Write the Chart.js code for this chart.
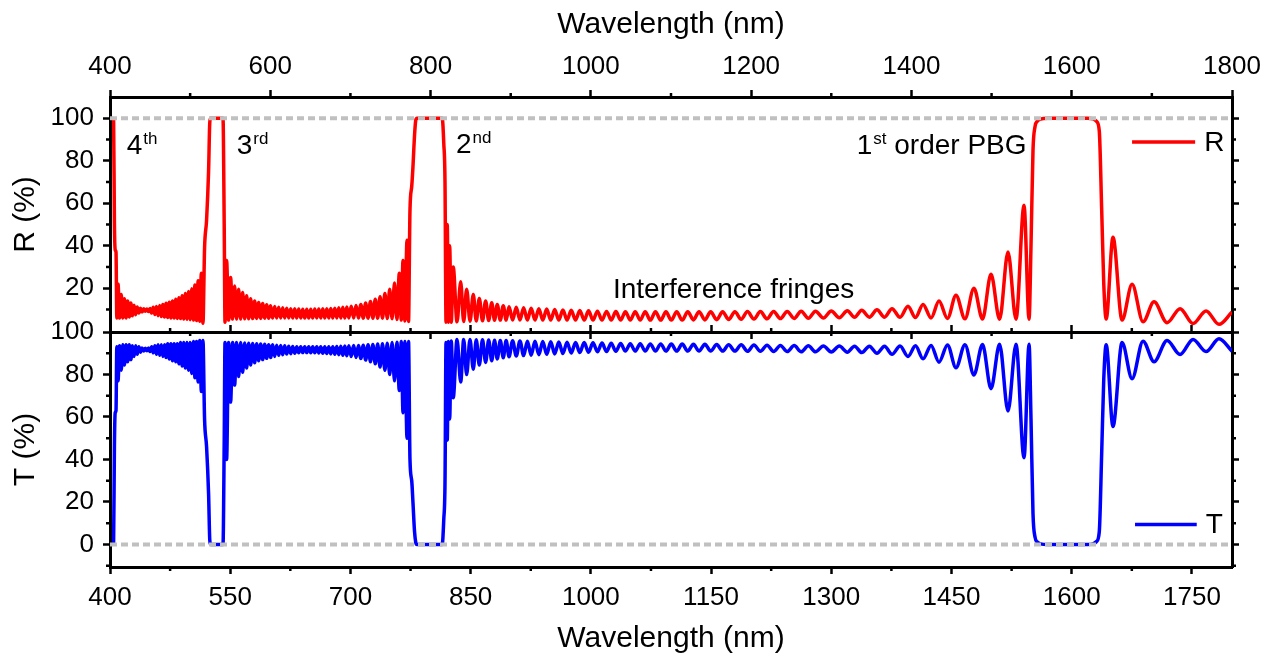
<!DOCTYPE html>
<html>
<head>
<meta charset="utf-8">
<title>R / T spectrum</title>
<script src="https://cdn.jsdelivr.net/npm/chart.js@4.4.1/dist/chart.umd.min.js"></script>
<style>
  body { margin: 0; background: #fff; }
  #wrap { position: relative; width: 1277px; height: 660px; }
  #wrap canvas { position: absolute; left: 0; top: 0; }
</style>
</head>
<body>
<div id="wrap">
  <canvas id="tChart" width="1277" height="660"></canvas>
  <canvas id="rChart" width="1277" height="660"></canvas>
</div>
<script>
// Points (fringe maxima / minima and band edges), by region.
// 403 - 524.5 nm : 4th order edge, fringes, 3rd order edge
const wlUV = [403, 404.5, 405.5, 406.5, 407.5, 408.5,
  410, 412, 414, 416, 418, 420, 422, 424, 426, 428,
  430, 432, 434, 436, 438, 440, 442, 444, 446, 448,
  450, 452, 454, 456, 458, 460, 462, 464, 466, 468,
  470, 472, 474, 476, 478, 480, 482, 484, 486, 488,
  490, 492, 494, 496, 498, 500, 502, 504, 506, 508,
  510, 512, 514, 516,
  518, 520.5, 523, 524.5];
const rUV = [100, 99, 51, 38, 37, 6,
  22, 6, 17, 6, 15, 6, 14, 6.5, 13, 7,
  12, 7.5, 11.2, 8.3, 10.6, 8.8, 10.3, 9.2, 10.2, 9,
  10.5, 8.3, 11, 7.6, 11.4, 7.1, 11.9, 6.7, 12.4, 6.5,
  12.9, 6.2, 13.4, 6, 14, 6, 14.8, 5.8, 15.5, 5.7,
  16.5, 5.5, 17.5, 5.4, 18.5, 5.2, 19.8, 5, 21.5, 4.8,
  23.5, 4.5, 27, 3.5,
  39, 52, 75, 98];
const tUV = [0, 1, 46, 62, 63, 93,
  77, 93.5, 82, 94, 84.5, 94, 86, 94, 87, 93.5,
  88.5, 93.5, 89.5, 93, 90.5, 92.5, 91, 92.3, 91.2, 92.5,
  90.8, 93, 90.2, 93.5, 89.5, 94, 89, 94, 88.5, 94,
  88, 94.5, 87.3, 94.5, 86.5, 94.5, 86, 94.5, 85, 95,
  84, 95, 83, 95, 82, 95, 80.5, 95.5, 78.5, 95.5,
  76.5, 96, 72, 96,
  59, 46, 24, 2];

// 525.5 - 783 nm : 3rd order gap, fringes, 2nd order edge
const wlVis = [525.5, 541, 542.5, 543.5,
  545.5, 548, 550.5, 553, 555.5, 558, 560.5, 563, 565.5, 568,
  570.5, 573, 575.5, 578, 580.5, 583, 585.5, 588, 590.5, 593,
  595.5, 598, 600.5, 603, 605.5, 608, 610.5, 613, 615.5, 618,
  620.5, 623, 625.5, 628, 630.5, 633, 635.5, 638, 640.5, 643,
  645.5, 648, 650.5, 653, 655.5, 658, 660.5, 663, 665.5, 668,
  670.5, 673, 675.5, 678, 680.5, 683, 685.5, 688, 690.5, 693,
  695.5, 698,
  701, 704, 707, 710, 713, 716, 719, 722, 725, 728,
  731, 734, 737, 740, 743, 746, 749, 752, 755, 758,
  761, 763.5, 765.6, 768, 770.6, 772.5,
  774.3, 776.5, 778, 780, 781.5, 783];
const rVis = [100, 100, 50, 4,
  33, 5, 25, 5.5, 21, 5.5, 19.5, 5.5, 18, 5.6,
  16.5, 5.6, 15, 5.7, 14, 5.8, 13.3, 5.8, 12.8, 5.9,
  12.2, 5.9, 11.8, 6, 11.4, 6, 11.1, 6, 10.8, 6,
  10.6, 6, 10.4, 6, 10.3, 6, 10.2, 6, 10.1, 6,
  10.1, 6, 10.1, 6, 10.2, 6, 10.2, 6, 10.3, 6,
  10.4, 6, 10.5, 6, 10.6, 6, 10.8, 6, 11, 6,
  11.2, 6,
  11.5, 6, 11.9, 6, 12.4, 5.9, 13, 5.9, 13.8, 5.9,
  14.8, 5.9, 16, 5.9, 17.5, 5.8, 19.5, 5.6, 22.5, 5.3,
  27, 5, 33, 4.6, 42.6, 4.4,
  56.7, 68, 77, 92, 99, 100];
const tVis = [0, 0, 48, 95,
  40, 95, 67, 95, 75, 95, 79, 95, 81, 94.8,
  83, 94.7, 84.5, 94.6, 85.5, 94.5, 86.5, 94.3, 87, 94.2,
  87.6, 94, 88, 94, 88.5, 93.8, 89, 93.6, 89.3, 93.5,
  89.6, 93.3, 89.8, 93.2, 90, 93, 90.2, 93, 90.3, 93,
  90.3, 93, 90.2, 93, 90.2, 93, 90.1, 93, 90, 93,
  89.9, 93, 89.7, 93.1, 89.5, 93.2, 89.3, 93.3, 89, 93.4,
  88.8, 93.5,
  88.5, 93.6, 88, 93.7, 87.5, 93.8, 86.8, 94, 86, 94.1,
  85, 94.3, 83.5, 94.5, 82, 94.7, 80, 95, 77, 95.2,
  72.5, 95.5, 62, 95.5, 50, 95.5,
  40, 30, 20, 6, 1, 0];

// 814.5 - 1546.8 nm : 2nd order edge, interference fringes, 1st order edge
const wlNir = [814.5, 816.5, 818, 819.3, 820.8, 822.2, 823.8, 825.8,
  828.3, 833, 837.6, 841.3, 845, 849.2, 853.3, 857, 860.8, 864.8,
  868.7, 872.5, 876.3, 879.8, 883.2, 887, 890.7, 894.3, 897.9, 902.4,
  906.9, 911.5, 916.1, 920.8, 925.5, 930.3, 935.1, 940, 944.9, 949.9,
  954.9, 960, 965.1, 970.3, 975.5, 980.9, 986.2, 991.7, 997.1, 1002.7,
  1008.2, 1013.9, 1019.6, 1025.4, 1031.2, 1037.2, 1043.1, 1049.2, 1055.3, 1061.6,
  1067.8, 1074.2, 1080.6, 1087.2, 1093.7, 1100.4, 1107.1, 1114, 1120.9, 1128,
  1135, 1142.3, 1149.5, 1157, 1164.4, 1172, 1179.7, 1187.6, 1195.4, 1203.5,
  1211.5, 1219.8, 1228, 1236.5, 1245, 1253.7, 1262.4, 1271.4, 1280.3, 1290.2,
  1300, 1310, 1320, 1329, 1338, 1347.5, 1357, 1366.4, 1375.8, 1385.8,
  1395.7, 1405.1, 1414.5, 1424.5, 1434.4, 1445, 1455.6, 1466.8, 1478, 1488.7,
  1499.3, 1510, 1520.5, 1530.5, 1540.5, 1546.8];
const rNir = [100, 88, 70, 4, 50, 4, 40, 4,
  30, 4.2, 23, 4.3, 19.5, 4.5, 17, 4.6, 15.2, 4.7,
  14, 4.8, 13.2, 4.9, 12.4, 5, 11.8, 5, 11.3, 5,
  11, 5, 10.8, 5, 10.6, 5, 10.4, 5, 10.2, 5,
  10, 5, 9.8, 5, 9.6, 5, 9.5, 5, 9.4, 5,
  9.2, 5, 9.1, 5, 9, 5, 8.9, 5, 8.9, 5,
  8.9, 5, 8.9, 5, 8.9, 5, 8.9, 5, 8.9, 5.1,
  8.9, 5.1, 8.9, 5.2, 8.9, 5.3, 8.9, 5.4, 9, 5.5,
  9, 5.6, 9.1, 5.7, 9.1, 5.8, 9.2, 5.9, 9.2, 6,
  9.3, 6.1, 9.4, 6.3, 9.6, 6.4, 9.9, 6.4, 10.4, 6.3,
  11.5, 6.2, 12.4, 6, 14, 5.8, 16.7, 5.6, 20, 5.5,
  26.6, 5.4, 37, 5.4, 59, 5.4];
const tNir = [0, 12, 29, 95, 49, 95.5, 59, 95.8,
  69, 96.5, 76.5, 96.5, 80, 96.5, 82.5, 96.4, 84.5, 96.3,
  85.7, 96.2, 86.5, 96.1, 87.3, 96, 87.9, 96, 88.4, 95.9,
  88.7, 95.8, 88.9, 95.7, 89.1, 95.6, 89.3, 95.5, 89.5, 95.4,
  89.7, 95.3, 89.9, 95.2, 90.1, 95.1, 90.3, 95, 90.5, 94.9,
  90.7, 94.8, 90.8, 94.7, 90.9, 94.6, 91, 94.5, 91, 94.5,
  91, 94.4, 91, 94.4, 91, 94.3, 91, 94.3, 91, 94.2,
  91, 94.2, 91, 94.1, 91, 94, 91, 94, 90.9, 93.9,
  90.9, 93.8, 90.8, 93.7, 90.8, 93.6, 90.7, 93.5, 90.7, 93.4,
  90.6, 93.4, 90.5, 93.3, 90.3, 93.3, 90, 93.3, 89.5, 93.4,
  88.5, 93.5, 87.4, 93.7, 85.8, 93.9, 83.2, 94, 79.8, 94.1,
  73.3, 94.2, 62.8, 94.2, 40.8, 94.2];

// 1549.2 - 1800 nm : 1st order gap and long-wavelength fringes
const wlIr = [1549.2, 1551.7, 1554.2, 1557, 1561, 1570, 1620, 1626.5, 1631, 1634.4,
  1637.4, 1640, 1643, 1651.5, 1662.8, 1675.3, 1689, 1702.7, 1719, 1735.2,
  1751.4, 1767.6, 1783.8, 1800];
const rIr = [40, 85, 96, 98.6, 99.6, 100, 100, 99.7, 98.5, 94,
  57, 22, 5.5, 44, 5, 21.9, 4.2, 13.6, 3.8, 10.4,
  3.4, 9.3, 3, 8.8];
const tIr = [59, 14.5, 3.5, 1.2, 0.3, 0, 0, 0.3, 1.4, 6,
  43, 78, 94, 55.5, 95, 78, 95.7, 86, 96, 89.4,
  96.5, 90.8, 96.8, 91];

// reference levels (grey dashed)
const rBandTop = 100;
const tBandFloor = 0;

// axes
const wlRange = [400, 1800];
const topTicks = [400, 600, 800, 1000, 1200, 1400, 1600, 1800];
const topMinor = [500, 700, 900, 1100, 1300, 1500, 1700];
const bottomTicks = [400, 550, 700, 850, 1000, 1150, 1300, 1450, 1600, 1750];
const bottomMinor = [475, 625, 775, 925, 1075, 1225, 1375, 1525, 1675];
const rRange = [-0.6, 110];
const rTicks = [20, 40, 60, 80, 100];
const rMinor = [10, 30, 50, 70, 90];
const tRange = [-10.6, 100];
const tTicks = [0, 20, 40, 60, 80, 100];
const tMinor = [-10, 10, 30, 50, 70, 90];

const wavelength = [...wlUV, ...wlVis, ...wlNir, ...wlIr];
const reflectance = [...rUV, ...rVis, ...rNir, ...rIr];
const transmittance = [...tUV, ...tVis, ...tNir, ...tIr];
if (wavelength.length !== reflectance.length || wavelength.length !== transmittance.length) {
  console.error("length mismatch", wavelength.length, reflectance.length, transmittance.length);
}

const FONT = "'Liberation Sans', Arial, Helvetica, sans-serif";
Chart.defaults.font.family = FONT;
Chart.defaults.color = "#000";

function points(ys) {
  return wavelength.map((x, i) => ({ x, y: ys[i] }));
}

function axis(position, range, tickValues, size, labels, title, titlePad) {
  const horizontal = position === "top" || position === "bottom";
  return {
    type: "linear",
    position,
    min: range[0],
    max: range[1],
    afterBuildTicks: s => { s.ticks = tickValues.map(v => ({ value: v })); },
    afterFit: s => { if (horizontal) s.height = size; else s.width = size; },
    grid: {
      display: true,
      drawOnChartArea: false,
      drawTicks: true,
      tickLength: 7,
      tickWidth: 2.5,
      tickColor: "#000"
    },
    border: { display: true, color: "#000", width: 3 },
    ticks: {
      display: labels,
      autoSkip: false,
      maxRotation: 0,
      minRotation: 0,
      padding: horizontal ? 8 : 9,
      font: { size: 26 },
      color: "#000",
      callback: v => String(v)
    },
    title: {
      display: !!title,
      text: title || "",
      font: { size: 30 },
      color: "#000",
      padding: titlePad || 0
    }
  };
}

// short minor ticks, placed through the scales
const minorTicks = {
  id: "minorTicks",
  afterDraw(chart, args, opts) {
    const ctx = chart.ctx;
    ctx.save();
    ctx.strokeStyle = "#000";
    ctx.lineWidth = 2.5;
    opts.list.forEach(m => {
      const s = chart.scales[m.scale];
      m.values.forEach(v => {
        const p = s.getPixelForValue(v);
        ctx.beginPath();
        if (s.position === "left") { ctx.moveTo(s.right, p); ctx.lineTo(s.right - 4, p); }
        else if (s.position === "right") { ctx.moveTo(s.left, p); ctx.lineTo(s.left + 4, p); }
        else if (s.position === "top") { ctx.moveTo(p, s.bottom); ctx.lineTo(p, s.bottom - 4); }
        else { ctx.moveTo(p, s.top); ctx.lineTo(p, s.top + 4); }
        ctx.stroke();
      });
    });
    ctx.restore();
  }
};

// text labels (with superscripts) and the line keys
const notes = {
  id: "notes",
  afterDatasetsDraw(chart, args, opts) {
    const ctx = chart.ctx;
    const xs = chart.scales[opts.xAxis];
    const ys = chart.scales[opts.yAxis];
    ctx.save();
    ctx.fillStyle = "#000";
    ctx.textAlign = "left";
    ctx.textBaseline = "alphabetic";
    (opts.notes || []).forEach(n => {
      let x = xs.getPixelForValue(n.x);
      const y = ys.getPixelForValue(n.y);
      n.parts.forEach(([text, sup]) => {
        ctx.font = (sup ? "17px " : "28px ") + FONT;
        ctx.fillText(text, x, sup ? y - 10 : y);
        x += ctx.measureText(text).width + (sup ? 0 : 1);
      });
    });
    (opts.keys || []).forEach(k => {
      const y = ys.getPixelForValue(k.y);
      const x1 = xs.getPixelForValue(k.x1);
      ctx.strokeStyle = k.color;
      ctx.lineWidth = 3.5;
      ctx.beginPath();
      ctx.moveTo(xs.getPixelForValue(k.x0), y);
      ctx.lineTo(x1, y);
      ctx.stroke();
      ctx.font = "28px " + FONT;
      ctx.textBaseline = "middle";
      ctx.fillText(k.label, x1 + 9, y + 1);
      ctx.textBaseline = "alphabetic";
    });
    ctx.restore();
  }
};

const rNotes = [
  { x: 420.8, y: 83.4, parts: [["4"], ["th", true]] },
  { x: 558.1, y: 83.4, parts: [["3"], ["rd", true]] },
  { x: 831.7, y: 83.6, parts: [["2"], ["nd", true]] },
  { x: 1331.7, y: 83.4, parts: [["1"], ["st", true], [" order PBG"]] },
  { x: 1027.6, y: 15.2, parts: [["Interference fringes"]] }
];
const rKey = { x0: 1675.3, x1: 1754, y: 88.8, color: "#ff0000", label: "R" };
const tKey = { x0: 1679, x1: 1756, y: 9.4, color: "#0000ff", label: "T" };

function lineSet(label, ys, color, xId, yId) {
  return {
    label,
    data: points(ys),
    xAxisID: xId,
    yAxisID: yId,
    borderColor: color,
    backgroundColor: color,
    borderWidth: 3.5,
    pointRadius: 0,
    cubicInterpolationMode: "monotone",
    borderJoinStyle: "round",
    fill: false,
    order: 1
  };
}

function levelSet(level, xId, yId) {
  return {
    label: "level",
    data: [{ x: wlRange[0], y: level }, { x: wlRange[1], y: level }],
    xAxisID: xId,
    yAxisID: yId,
    borderColor: "#c0c0c0",
    borderWidth: 4,
    borderDash: [7, 4],
    pointRadius: 0,
    fill: false,
    order: 0
  };
}

const common = {
  responsive: false,
  animation: false,
  events: [],
  layout: { padding: 0 }
};

// lower panel: transmittance
new Chart(document.getElementById("tChart"), {
  type: "line",
  data: {
    datasets: [
      lineSet("T", transmittance, "#0000ff", "xT", "yT"),
      levelSet(tBandFloor, "xT", "yT")
    ]
  },
  options: {
    ...common,
    scales: {
      xT: axis("bottom", wlRange, bottomTicks, 93, true, "Wavelength (nm)", 3),
      xT2: axis("top", wlRange, bottomTicks, 332, false),
      yT: axis("left", tRange, tTicks, 110, true, "T (%)", 8),
      yT2: axis("right", tRange, tTicks, 45, false)
    },
    plugins: {
      legend: { display: false },
      tooltip: { enabled: false },
      minorTicks: { list: [
        { scale: "xT", values: bottomMinor },
        { scale: "xT2", values: bottomMinor },
        { scale: "yT", values: tMinor },
        { scale: "yT2", values: tMinor }
      ] },
      notes: { xAxis: "xT", yAxis: "yT", notes: [], keys: [tKey] }
    }
  },
  plugins: [minorTicks, notes]
});

// upper panel: reflectance
new Chart(document.getElementById("rChart"), {
  type: "line",
  data: {
    datasets: [
      lineSet("R", reflectance, "#ff0000", "xR", "yR"),
      levelSet(rBandTop, "xR", "yR")
    ]
  },
  options: {
    ...common,
    scales: {
      xR: axis("top", wlRange, topTicks, 97, true, "Wavelength (nm)", 7),
      xR2: axis("bottom", wlRange, topTicks, 328, false),
      yR: axis("left", rRange, rTicks, 110, true, "R (%)", 8),
      yR2: axis("right", rRange, rTicks, 45, false)
    },
    plugins: {
      legend: { display: false },
      tooltip: { enabled: false },
      minorTicks: { list: [
        { scale: "xR", values: topMinor },
        { scale: "xR2", values: topMinor },
        { scale: "yR", values: rMinor },
        { scale: "yR2", values: rMinor }
      ] },
      notes: { xAxis: "xR", yAxis: "yR", notes: rNotes, keys: [rKey] }
    }
  },
  plugins: [minorTicks, notes]
});
</script>
</body>
</html>
